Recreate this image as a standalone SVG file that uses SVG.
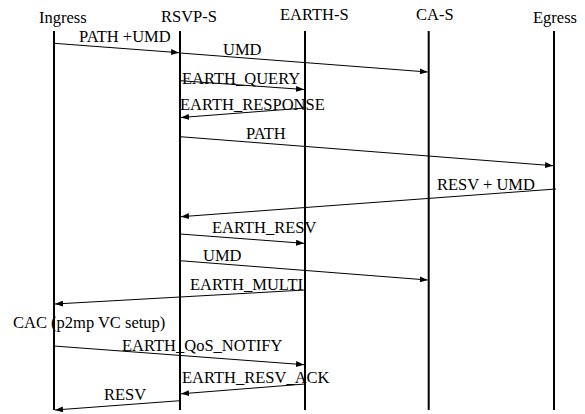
<svg xmlns="http://www.w3.org/2000/svg" width="585" height="414" viewBox="0 0 585 414">
<style>
text{font-family:"Liberation Serif","Times New Roman",serif;font-size:16.5px;fill:#000}
.life{stroke:#000;stroke-width:2;fill:none}
.msg{stroke:#000;stroke-width:1;fill:none;marker-end:url(#ah)}
</style>
<defs>
<marker id="ah" markerUnits="userSpaceOnUse" markerWidth="9" markerHeight="6" refX="8" refY="3" orient="auto">
<path d="M0,0 L8,3 L0,6 z" fill="#000"/>
</marker>
</defs>
<rect width="585" height="414" fill="#fff"/>
<g id="ingress"><text x="39" y="22.5">Ingress</text><line class="life" x1="54" y1="31" x2="54" y2="410"/></g>
<g id="rsvp-s"><text x="161" y="21.5">RSVP-S</text><line class="life" x1="180" y1="31" x2="180" y2="410"/></g>
<g id="earth-s"><text x="280" y="19.5">EARTH-S</text><line class="life" x1="305" y1="31" x2="305" y2="410"/></g>
<g id="ca-s"><text x="416" y="19.5">CA-S</text><line class="life" x1="428.7" y1="31" x2="428.7" y2="410"/></g>
<g id="egress"><text x="533" y="23">Egress</text><line class="life" x1="554" y1="31" x2="554" y2="410"/></g>
<g id="connectors">
<line class="msg" x1="54" y1="43.3" x2="179" y2="52.7"/><text x="79" y="42">PATH +UMD</text>
<line class="msg" x1="180" y1="53" x2="427.7" y2="72"/><text x="223" y="55">UMD</text>
<line class="msg" x1="180" y1="80.7" x2="304" y2="89.5"/><text x="182" y="84">EARTH_QUERY</text>
<line class="msg" x1="305" y1="108" x2="181" y2="117.5"/><text x="180" y="110">EARTH_RESPONSE</text>
<line class="msg" x1="180" y1="136.7" x2="553" y2="165.7"/><text x="246" y="139">PATH</text>
<line class="msg" x1="556" y1="189" x2="181" y2="216.7"/><text x="437" y="190">RESV + UMD</text>
<line class="msg" x1="180" y1="234" x2="304" y2="243.3"/><text x="212" y="233">EARTH_RESV</text>
<line class="msg" x1="180" y1="260.7" x2="427.7" y2="280"/><text x="203" y="261">UMD</text>
<line class="msg" x1="305" y1="290" x2="55" y2="304"/><text x="190" y="290">EARTH_MULTI</text>
<text x="13" y="328">CAC (p2mp VC setup)</text>
<line class="msg" x1="54" y1="346" x2="304" y2="364.7"/><text x="122" y="351">EARTH_QoS_NOTIFY</text>
<line class="msg" x1="305" y1="384" x2="181" y2="393.8"/><text x="182" y="383">EARTH_RESV_ACK</text>
<line class="msg" x1="180" y1="400.7" x2="55" y2="410"/><text x="104" y="400">RESV</text>
</g>
</svg>
